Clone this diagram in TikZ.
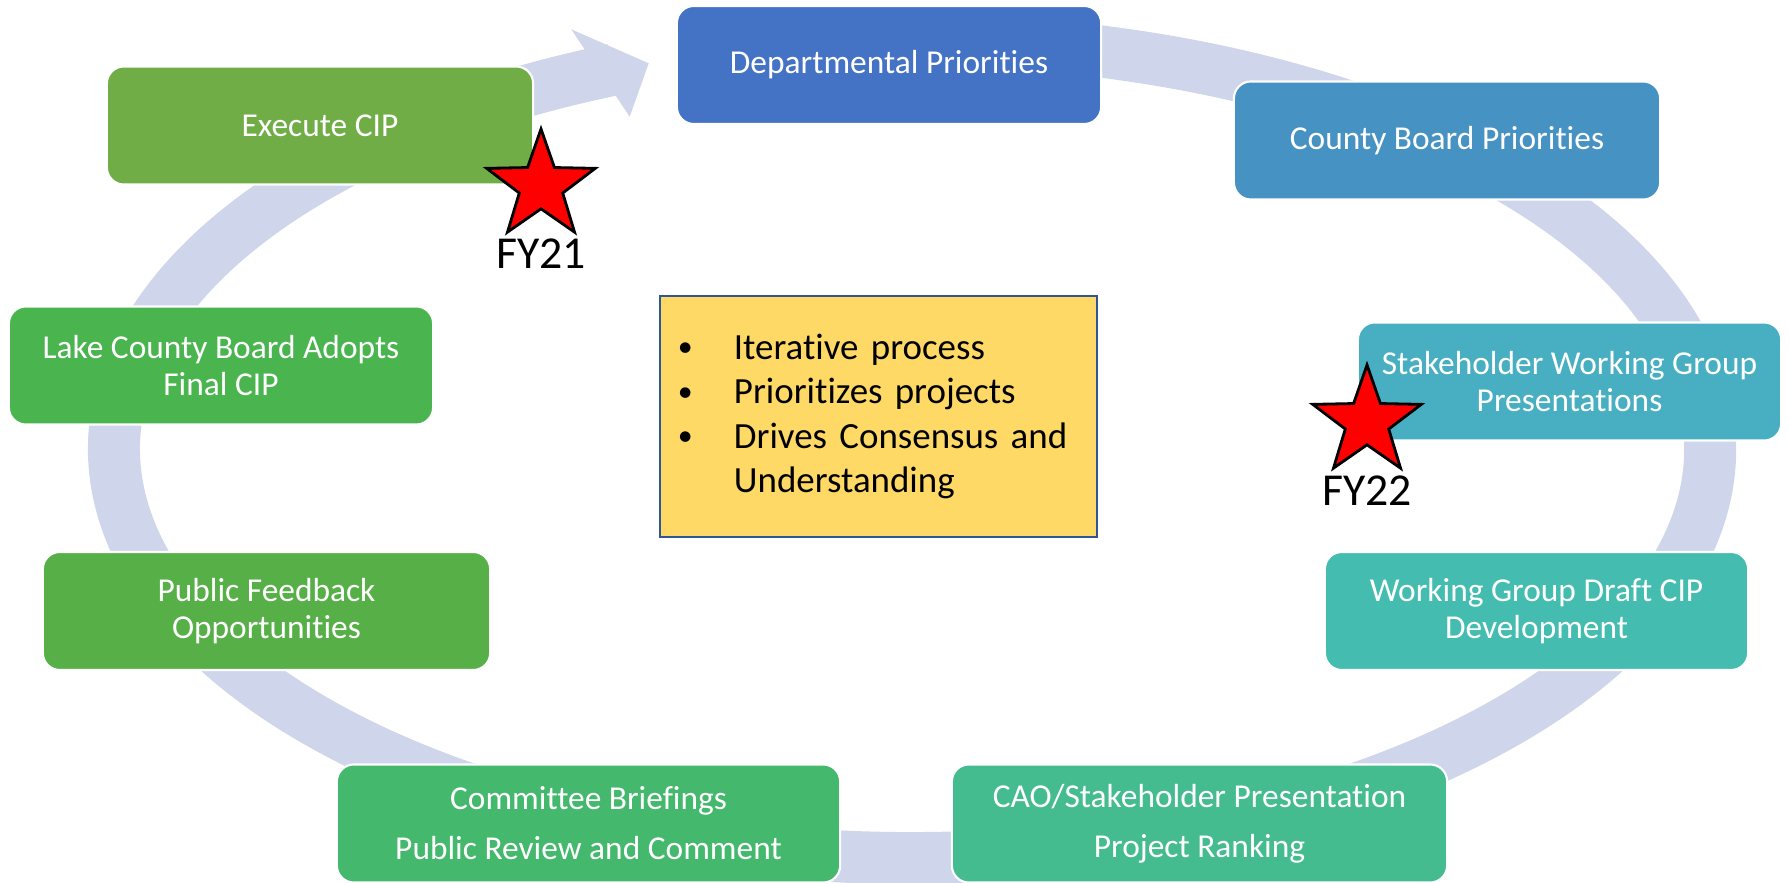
\documentclass[tikz,border=0pt]{standalone}
\usepackage{fontspec}
\setmainfont[Ligatures=NoCommon]{Carlito}
\usetikzlibrary{shapes.geometric}

\definecolor{ringcol}{HTML}{CFD5EA}
\definecolor{c1}{HTML}{4472C4}
\definecolor{c2}{HTML}{4692C2}
\definecolor{c3}{HTML}{47AFC1}
\definecolor{c4}{HTML}{44BDB0}
\definecolor{c5}{HTML}{45BC8F}
\definecolor{c6}{HTML}{44B86C}
\definecolor{c7}{HTML}{57AF48}
\definecolor{c8}{HTML}{4AB44F}
\definecolor{c9}{HTML}{70AD47}
\definecolor{noteback}{HTML}{FFD966}
\definecolor{noteline}{HTML}{2F5597}

\newcommand{\bulitem}{\makebox[0.56cm][l]{\fontsize{8.5pt}{8.5pt}\selectfont\raisebox{0.7pt}{\textbullet}}}

\begin{document}
\begin{tikzpicture}[x=0.01cm,y=-0.01cm,
    cyclebox/.style={rounded corners=0.17cm,draw=white,line width=0.6pt,text=white,
      font=\fontsize{9.5pt}{10.7pt}\selectfont,align=center,minimum height=1.18cm,inner sep=0pt},
    fystar/.style={star,star points=5,star point ratio=2.5,minimum size=1.14cm,inner sep=0pt,
      fill=red,draw=black,line width=0.8pt},
    fylabel/.style={font=\fontsize{13pt}{15pt}\selectfont,inner sep=0pt}]
      \useasboundingbox (0,0) rectangle (1789,883);

      % ring with arrow
      \draw[ringcol,line width=0.52cm] ([shift={(260:798 and 409)}]912,449)
        arc[start angle=260,end angle=608,x radius=798,y radius=409];
      \fill[ringcol] (571.2,29.3) -- (648.7,63.3) -- (629.7,116.7) -- cycle;

      % steps
      \node[cyclebox,fill=c1,minimum width=4.24cm] (1) at (889,65) {Departmental Priorities};
      \node[cyclebox,fill=c2,minimum width=4.26cm] (2) at (1447,140.5) {County Board Priorities};
      \node[cyclebox,fill=c3,minimum width=4.23cm] (3) at (1569.5,381.5) {Stakeholder Working Group\\Presentations};
      \node[cyclebox,fill=c4,minimum width=4.23cm] (4) at (1536.5,611) {Working Group Draft CIP\\Development};
      \node[cyclebox,fill=c5,minimum width=4.95cm] (5) at (1199.5,823.5) {CAO/Stakeholder Presentation\\[3.5pt]Project Ranking};
      \node[cyclebox,fill=c6,minimum width=5.03cm] (6) at (588.5,823.5) {Committee Briefings\\[3.5pt]Public Review and Comment};
      \node[cyclebox,fill=c7,minimum width=4.47cm] (7) at (266.5,611) {Public Feedback\\Opportunities};
      \node[cyclebox,fill=c8,minimum width=4.24cm] (8) at (221,365.5) {Lake County Board Adopts\\Final CIP};
      \node[cyclebox,fill=c9,minimum width=4.26cm] (9) at (320,125.5) {Execute CIP};

      % note in the middle
      \node[fill=noteback,draw=noteline,line width=0.7pt,minimum height=2.41cm,text width=4.01cm,
        inner xsep=0.18cm,align=left,font=\fontsize{10.5pt}{12.65pt}\selectfont] (10) at (878.5,416.5)
        {\bulitem Iterative process\\\bulitem Prioritizes projects\\\bulitem Drives Consensus and\\\hspace*{0.56cm}Understanding};

      % fiscal years
      \node[fystar] (11) at (541,186) {};
      \node[fystar] (12) at (1367,422) {};
      \node[fylabel,below of=11,yshift=0.32cm] (13) {FY21};
      \node[fylabel,below of=12,yshift=0.31cm] (14) {FY22};
\end{tikzpicture}
\end{document}
